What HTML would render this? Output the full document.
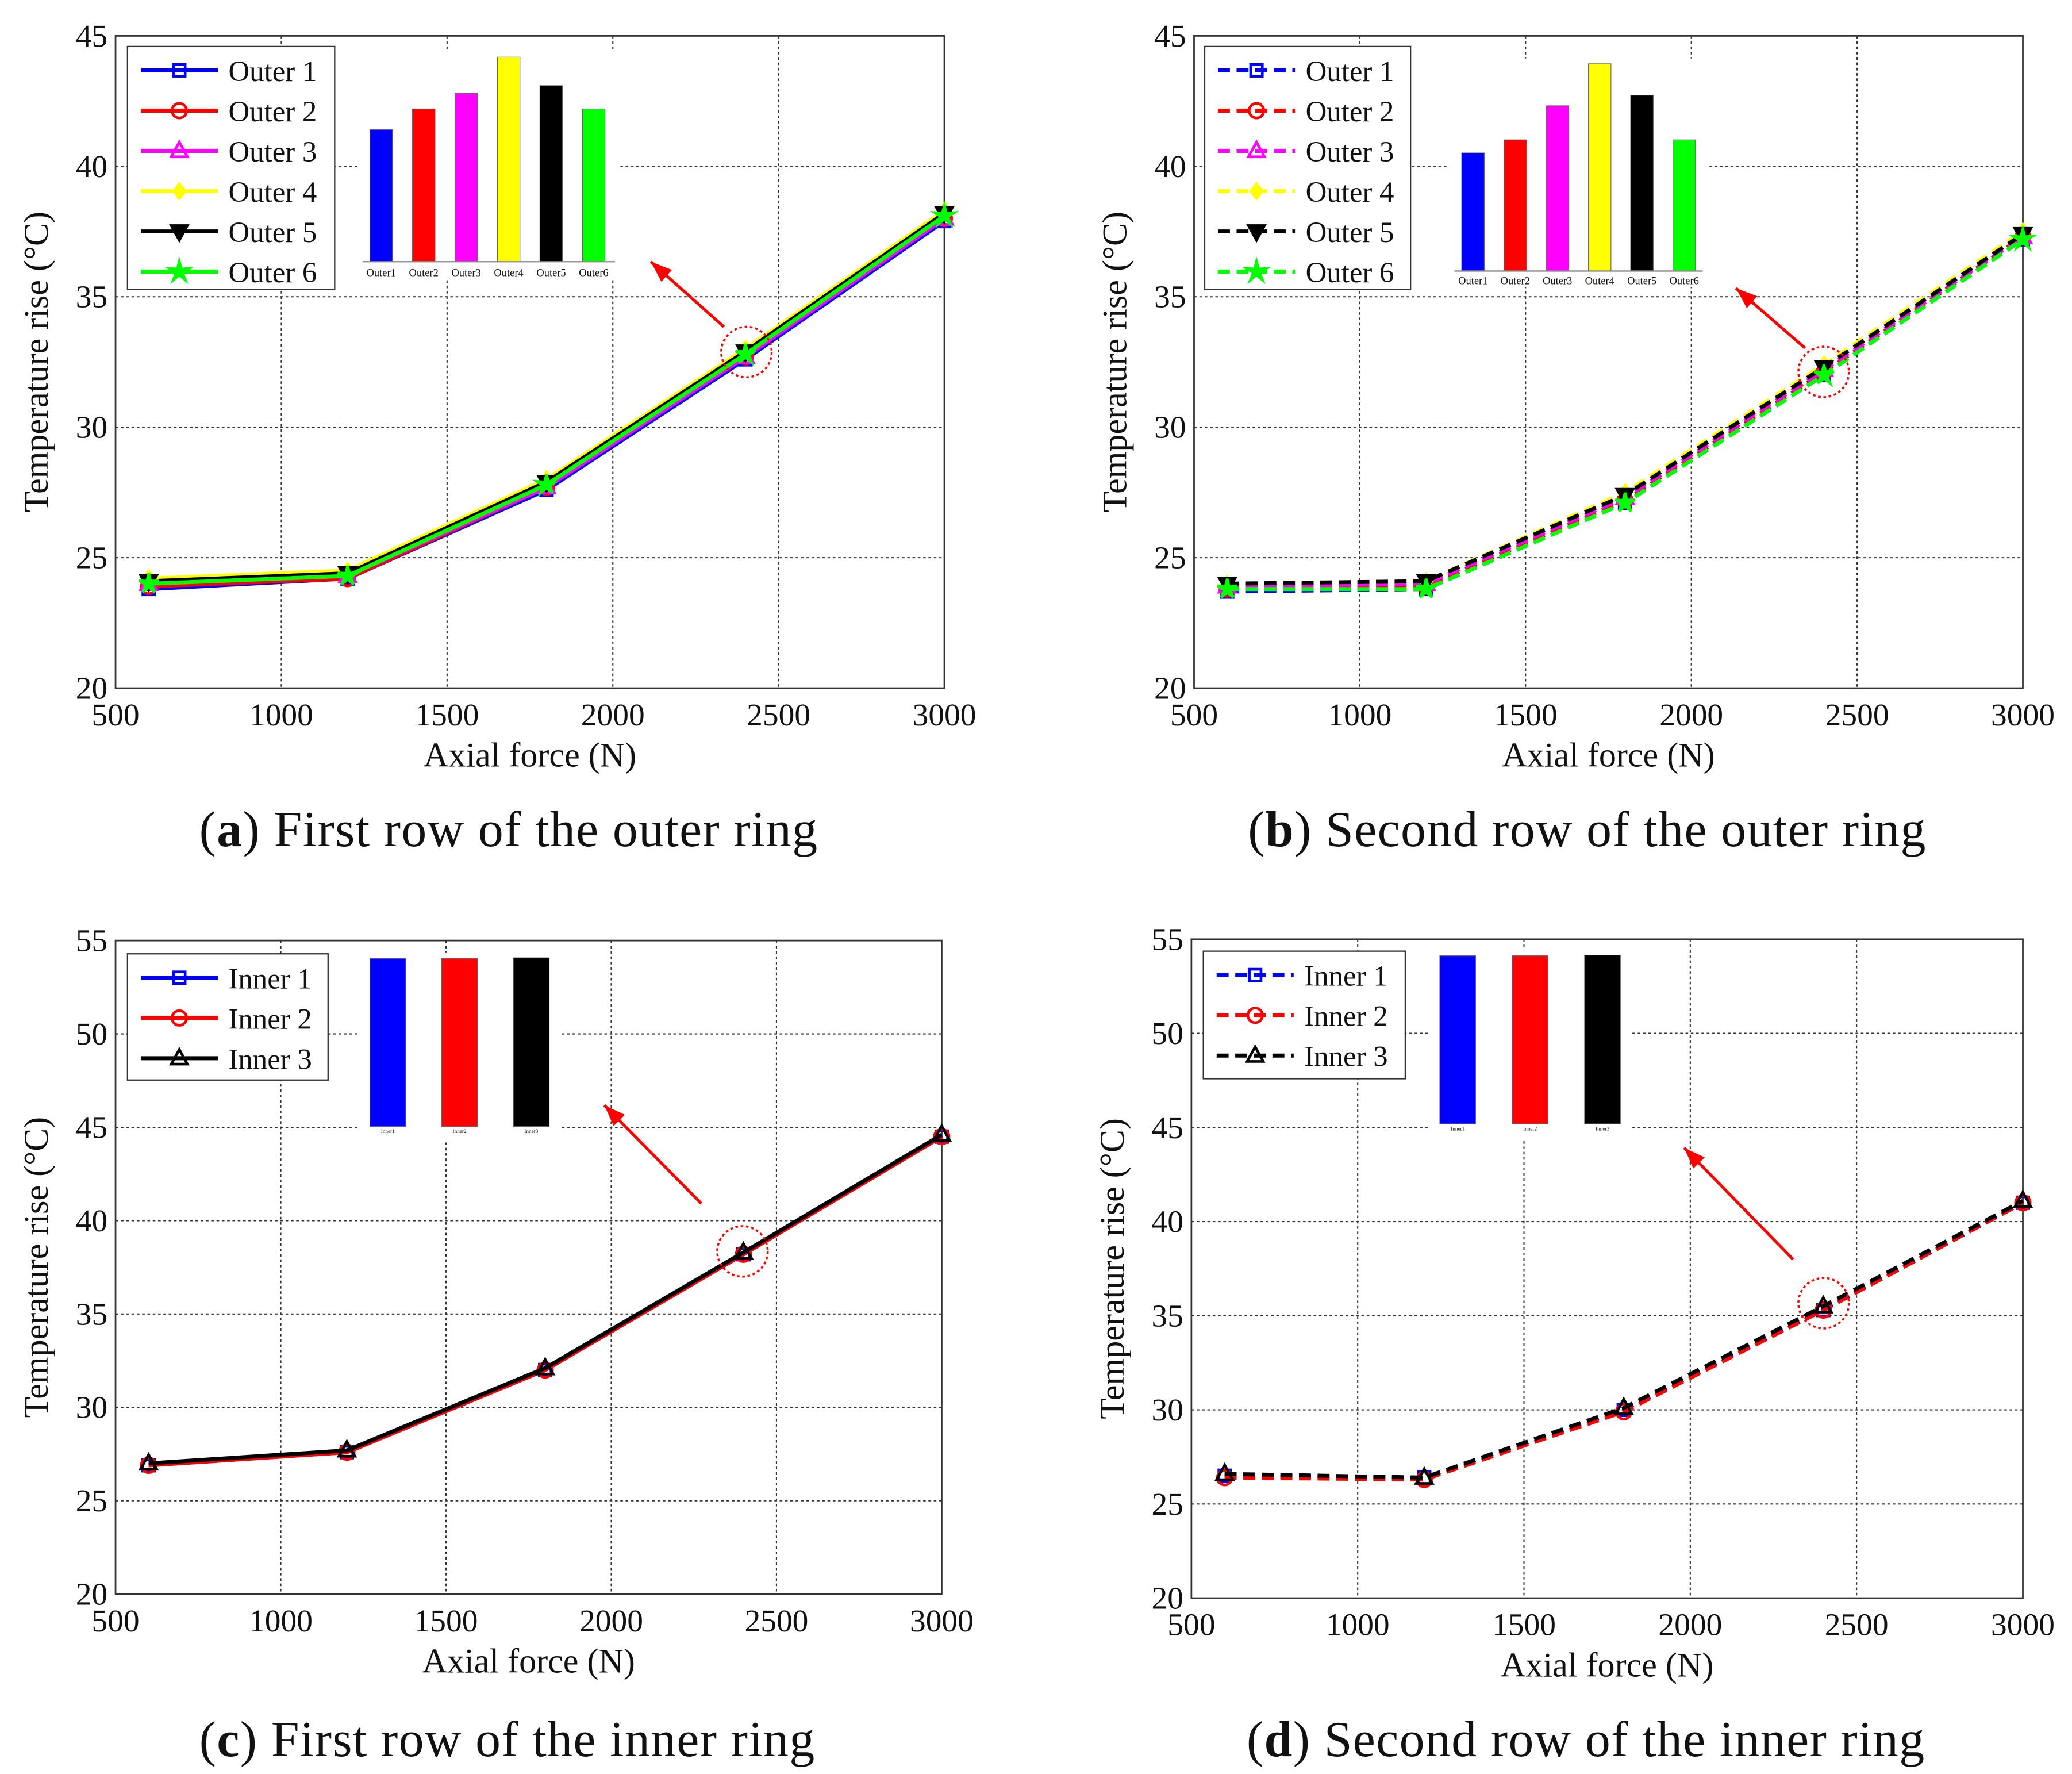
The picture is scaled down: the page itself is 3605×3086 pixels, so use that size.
<!DOCTYPE html>
<html><head><meta charset="utf-8"><style>
html,body{margin:0;padding:0;background:#fff;}
svg{display:block;}
text{font-family:"Liberation Serif",serif;}
</style></head><body>
<svg id="fig" width="3605" height="3086" viewBox="0 0 1560 1335.4" preserveAspectRatio="none" xmlns="http://www.w3.org/2000/svg" font-family="Liberation Serif, serif"></svg>
<script>
const forces = [600, 1200, 1800, 2400, 3000];
const xTicks = [500, 1000, 1500, 2000, 2500, 3000];
const outerNames = ["Outer 1","Outer 2","Outer 3","Outer 4","Outer 5","Outer 6"];
const outerColors = ["#0000ff","#ff0000","#ff00ff","#ffff00","#000000","#00ff00"];
const outerMarkers = ["square","circle","triangle","diamond","tridown","star"];
const aOuter1 = [23.8, 24.2, 27.6, 32.6, 37.9];
const aOuter2 = [23.9, 24.2, 27.7, 32.7, 38.0];
const aOuter3 = [24.0, 24.3, 27.7, 32.7, 38.0];
const aOuter4 = [24.2, 24.5, 28.0, 33.0, 38.3];
const aOuter5 = [24.1, 24.4, 27.9, 32.9, 38.2];
const aOuter6 = [24.0, 24.3, 27.8, 32.8, 38.1];
const bOuter1 = [23.7, 23.8, 27.1, 32.0, 37.2];
const bOuter2 = [23.8, 23.9, 27.2, 32.1, 37.3];
const bOuter3 = [23.9, 24.0, 27.3, 32.2, 37.3];
const bOuter4 = [24.0, 24.1, 27.5, 32.4, 37.5];
const bOuter5 = [24.0, 24.1, 27.4, 32.3, 37.4];
const bOuter6 = [23.8, 23.8, 27.1, 32.0, 37.2];
const innerNames = ["Inner 1","Inner 2","Inner 3"];
const innerColors = ["#0000ff","#ff0000","#000000"];
const innerMarkers = ["square","circle","triangle"];
const cInner1 = [26.9, 27.6, 32.0, 38.2, 44.5];
const cInner2 = [26.9, 27.6, 32.0, 38.2, 44.5];
const cInner3 = [27.0, 27.7, 32.1, 38.3, 44.6];
const dInner1 = [26.5, 26.4, 30.0, 35.3, 41.0];
const dInner2 = [26.4, 26.3, 29.9, 35.3, 41.0];
const dInner3 = [26.6, 26.4, 30.1, 35.5, 41.1];
const barA = [41.3, 42.1, 42.7, 44.1, 43.0, 42.1];
const barB = [40.4, 40.9, 42.2, 43.8, 42.6, 40.9];
const barC = [53.8, 53.8, 54.0];
const barD = [53.8, 53.8, 54.0];
const barLabelsOuter = ["Outer1","Outer2","Outer3","Outer4","Outer5","Outer6"];
const barLabelsInner = ["Inner1","Inner2","Inner3"];

const NS = "http://www.w3.org/2000/svg";
const svg = document.getElementById("fig");
function mk(tag, attrs, parent, name) {
  const e = document.createElementNS(NS, tag);
  for (const k in attrs) e.setAttribute(k, attrs[k]);
  
  
  if (tag === "text") e.setAttribute("font-family", "Liberation Serif, serif");
  (parent || svg).appendChild(e);
  return e;
}
function marker(g, type, x, y, col, fill) {
  const s = 5.5;
  let e;
  if (type === "square") e = mk("rect", {x:x-s*0.8,y:y-s*0.8,width:s*1.6,height:s*1.6}, g, "marker-square");
  else if (type === "circle") e = mk("circle", {cx:x,cy:y,r:s}, g, "marker-circle");
  else if (type === "triangle") e = mk("polygon", {points:`${x},${y-s*1.2} ${x-s*1.1},${y+s*0.8} ${x+s*1.1},${y+s*0.8}`}, g, "marker-triangle");
  else if (type === "tridown") e = mk("polygon", {points:`${x},${y+s*1.2} ${x-s*1.1},${y-s*0.8} ${x+s*1.1},${y-s*0.8}`}, g, "marker-triangle-down");
  else if (type === "diamond") e = mk("polygon", {points:`${x},${y-s} ${x+s*0.8},${y} ${x},${y+s} ${x-s*0.8},${y}`}, g, "marker-diamond");
  else {
    let p = [];
    for (let i = 0; i < 10; i++) { const r = i % 2 ? s*0.45 : s*1.4; const a = -Math.PI/2 + i*Math.PI/5; p.push((x+r*Math.cos(a)).toFixed(1)+","+(y+r*Math.sin(a)).toFixed(1)); }
    e = mk("polygon", {points:p.join(" ")}, g, "marker-star");
  }
  e.setAttribute("fill", fill ? col : "none");
  e.setAttribute("stroke", col);
  e.setAttribute("stroke-width", 2);
}
function panel(cfg) {
  const g = mk("g", {}, svg, cfg.name);
  const {x0,x1,y0,y1,ymin,ymax,ystep} = cfg;
  const sx = v => x0 + (v-500)/(3000-500)*(x1-x0);
  const sy = v => y1 - (v-ymin)/(ymax-ymin)*(y1-y0);
  mk("rect", {x:x0,y:y0,width:x1-x0,height:y1-y0,fill:"#fff",stroke:"none"}, g, "plot-area");
  xTicks.forEach(t => {
    if (t>500 && t<3000) mk("line",{x1:sx(t),x2:sx(t),y1:y0,y2:y1,stroke:"#333","stroke-width":0.9,"stroke-dasharray":"2,2"},g,"x-gridline");
    const tx = mk("text",{x:sx(t),y:y1+28,"font-size":24,"text-anchor":"middle",fill:"#111"},g,"x-tick-label"); tx.textContent = t;
  });
  for (let v = ymin; v <= ymax+0.001; v += ystep) {
    if (v>ymin && v<ymax) mk("line",{x1:x0,x2:x1,y1:sy(v),y2:sy(v),stroke:"#333","stroke-width":0.9,"stroke-dasharray":"2,2"},g,"y-gridline");
    const ty = mk("text",{x:x0-6,y:sy(v)+8,"font-size":24,"text-anchor":"end",fill:"#111"},g,"y-tick-label"); ty.textContent = v;
  }
  mk("rect",{x:x0,y:y0,width:x1-x0,height:y1-y0,fill:"none",stroke:"#333","stroke-width":1.2},g,"axes-frame");
  const xl = mk("text",{x:(x0+x1)/2,y:y1+59,"font-size":26,"text-anchor":"middle",fill:"#111","xml:space":"preserve"},g,"x-axis-title"); xl.textContent = "Axial  force (N)";
  const yl = mk("text",{x:0,y:0,"font-size":26,"text-anchor":"middle",fill:"#111",transform:`translate(${x0-51},${(y0+y1)/2}) rotate(-90)`},g,"y-axis-title"); yl.textContent = "Temperature rise (\u00B0C)";
  const cap = mk("text",{x:(x0+x1)/2 - 16,y:cfg.capY,"font-size":38,"text-anchor":"middle",fill:"#111","letter-spacing":0.6},g,"panel-caption");
  cap.innerHTML = `(<tspan font-weight="bold">${cfg.letter}</tspan>) ${cfg.caption}`;
  cfg.series.forEach((s, i) => {
    const pts = forces.map((f,j)=>sx(f).toFixed(1)+","+sy(s[j]).toFixed(1)).join(" ");
    const pl = mk("polyline",{points:pts,fill:"none",stroke:cfg.colors[i],"stroke-width":3},g,"series-line-"+(i+1));
    if (cfg.dashed) pl.setAttribute("stroke-dasharray","9,5");
    forces.forEach((f,j)=>marker(g,cfg.markers[i],sx(f),sy(s[j]),cfg.colors[i],cfg.markers[i]==="diamond"||cfg.markers[i]==="tridown"||cfg.markers[i]==="star"));
  });
  const L = cfg.legend;
  const lg = mk("g",{},g,"legend");
  mk("rect",{x:L.x,y:L.y,width:L.w,height:L.h,fill:"#fff",stroke:"#333","stroke-width":1},lg,"legend-box");
  cfg.names.forEach((n,i)=>{
    const yy = L.y + 18 + i*30.3;
    const ln = mk("line",{x1:L.x+10,x2:L.x+68,y1:yy,y2:yy,stroke:cfg.colors[i],"stroke-width":3},lg,"legend-line");
    if (cfg.dashed) ln.setAttribute("stroke-dasharray","9,5");
    marker(lg,cfg.markers[i],L.x+39,yy,cfg.colors[i],cfg.markers[i]==="diamond"||cfg.markers[i]==="tridown"||cfg.markers[i]==="star");
    const t = mk("text",{x:L.x+76,y:yy+8,"font-size":22,fill:"#111"},lg,"legend-entry"); t.textContent = n;
  });
  const B = cfg.bars;
  const ig = mk("g",{},g,"inset-bar-chart");
  mk("rect",{x:B.x0-4,y:B.ytop-4,width:B.x1-B.x0+8,height:B.base-B.ytop+16,fill:"#fff"},ig,"inset-background");
  const by = v => B.base - (v-B.vmin)/(B.vmax-B.vmin)*(B.base-B.ytop);
  B.vals.forEach((v,i)=>{
    const cx = B.c0 + i*B.step;
    mk("rect",{x:cx-B.bw/2,y:by(v),width:B.bw,height:B.base-by(v),fill:cfg.colors[i],stroke:"#666","stroke-width":0.5},ig,"inset-bar");
    const t = mk("text",{x:cx,y:B.base+B.lblOff,"font-size":B.lblSize,"text-anchor":"middle",fill:"#111"},ig,"inset-bar-label"); t.textContent = B.labels[i];
  });
  if (B.axis) mk("line",{x1:B.x0,x2:B.x1,y1:B.base,y2:B.base,stroke:"#888","stroke-width":1},ig,"inset-baseline");
  const A = cfg.arrow;
  mk("circle",{cx:A.cx,cy:A.cy,r:19,fill:"none",stroke:"#ff0000","stroke-width":1.5,"stroke-dasharray":"2,2"},g,"highlight-circle");
  mk("line",{x1:A.sx,y1:A.sy,x2:A.ex,y2:A.ey,stroke:"#ff0000","stroke-width":2.2},g,"arrow-shaft");
  const ang = Math.atan2(A.ey-A.sy, A.ex-A.sx), hl = 16, hw = 6;
  const bx = A.ex - hl*Math.cos(ang), byy = A.ey - hl*Math.sin(ang);
  mk("polygon",{points:`${A.ex},${A.ey} ${bx-hw*Math.sin(ang)},${byy+hw*Math.cos(ang)} ${bx+hw*Math.sin(ang)},${byy-hw*Math.cos(ang)}`,fill:"#ff0000"},g,"arrow-head");
}
panel({name:"panel-a",letter:"a",caption:"First row of the outer ring",x0:87,x1:711,y0:27,y1:518,ymin:20,ymax:45,ystep:5,capY:637,
  series:[aOuter1,aOuter2,aOuter3,aOuter4,aOuter5,aOuter6],names:outerNames,colors:outerColors,markers:outerMarkers,dashed:false,
  legend:{x:96,y:35,w:156,h:183},
  bars:{x0:273,x1:463,ytop:43,base:197,vmin:36.2,vmax:44.1,vals:barA,labels:barLabelsOuter,c0:287,step:32,bw:17,lblOff:11,lblSize:8,axis:true},
  arrow:{cx:562,cy:265,sx:545,sy:246,ex:490,ey:197}});
panel({name:"panel-b",letter:"b",caption:"Second row of the outer ring",x0:899,x1:1523,y0:27,y1:518,ymin:20,ymax:45,ystep:5,capY:637,
  series:[bOuter1,bOuter2,bOuter3,bOuter4,bOuter5,bOuter6],names:outerNames,colors:outerColors,markers:outerMarkers,dashed:true,
  legend:{x:907,y:35,w:155,h:183},
  bars:{x0:1095,x1:1282,ytop:48,base:204,vmin:35.9,vmax:43.8,vals:barB,labels:barLabelsOuter,c0:1109,step:31.8,bw:17,lblOff:10,lblSize:8,axis:true},
  arrow:{cx:1373,cy:280,sx:1359,sy:262,ex:1307,ey:217}});
panel({name:"panel-c",letter:"c",caption:"First row of the inner ring",x0:87,x1:709,y0:708,y1:1200,ymin:20,ymax:55,ystep:5,capY:1322,
  series:[cInner1,cInner2,cInner3],names:innerNames,colors:innerColors,markers:innerMarkers,dashed:false,
  legend:{x:96,y:718,w:151,h:95},
  bars:{x0:275,x1:418,ytop:721,base:848,vmin:0,vmax:54.0,vals:barC,labels:barLabelsInner,c0:292,step:54,bw:27,lblOff:5,lblSize:4,axis:false},
  arrow:{cx:559,cy:942,sx:528,sy:906,ex:455,ey:832}});
panel({name:"panel-d",letter:"d",caption:"Second row of the inner ring",x0:897,x1:1523,y0:707,y1:1203,ymin:20,ymax:55,ystep:5,capY:1322,
  series:[dInner1,dInner2,dInner3],names:innerNames,colors:innerColors,markers:innerMarkers,dashed:true,
  legend:{x:906,y:716,w:152,h:96},
  bars:{x0:1080,x1:1224,ytop:719,base:846,vmin:0,vmax:54.0,vals:barD,labels:barLabelsInner,c0:1097.5,step:54.5,bw:27,lblOff:5,lblSize:4,axis:false},
  arrow:{cx:1373,cy:981,sx:1350,sy:948,ex:1268,ey:864}});
</script>
</body></html>
